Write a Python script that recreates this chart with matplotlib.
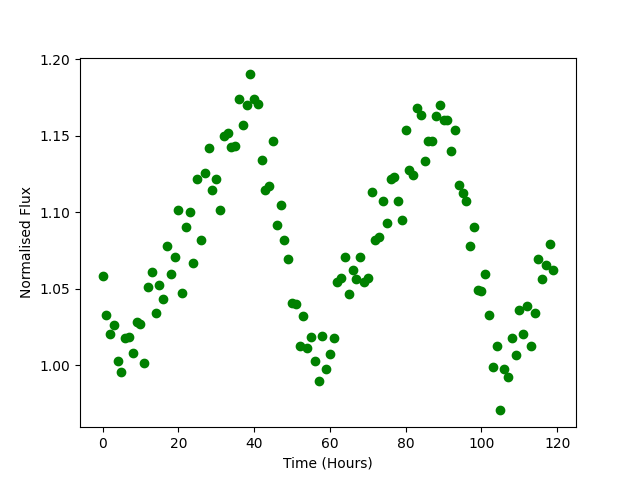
import numpy as np
import matplotlib
matplotlib.use("Agg")
import matplotlib.pyplot as plt

# temps d'observation (heures)
time = [0, 1, 2, 3, 4, 5, 6, 7, 8, 9, 10, 11, 12, 13, 14, 15, 16, 17, 18, 19,
        20, 21, 22, 23, 24, 25, 26, 27, 28, 29, 30, 31, 32, 33, 34, 35, 36, 37, 38, 39,
        40, 41, 42, 43, 44, 45, 46, 47, 48, 49, 50, 51, 52, 53, 54, 55, 56, 57, 58, 59,
        60, 61, 62, 63, 64, 65, 66, 67, 68, 69, 70, 71, 72, 73, 74, 75, 76, 77, 78, 79,
        80, 81, 82, 83, 84, 85, 86, 87, 88, 89, 90, 91, 92, 93, 94, 95, 96, 97, 98, 99,
        100, 101, 102, 103, 104, 105, 106, 107, 108, 109, 110, 111, 112, 113, 114, 115, 116, 117, 118, 119]

# flux normalise
flux = [1.0586, 1.0331, 1.0207, 1.0266, 1.0030, 0.9954, 1.0176, 1.0183, 1.0083, 1.0281,
        1.0268, 1.0017, 1.0508, 1.0608, 1.0344, 1.0527, 1.0436, 1.0776, 1.0593, 1.0710,
        1.1017, 1.0475, 1.0900, 1.1004, 1.0671, 1.1214, 1.0815, 1.1253, 1.1416, 1.1142,
        1.1214, 1.1017, 1.1495, 1.1514, 1.1423, 1.1429, 1.1737, 1.1567, 1.1697, 1.1900,
        1.1737, 1.1706, 1.1338, 1.1148, 1.1168, 1.1462, 1.0913, 1.1044, 1.0821, 1.0697,
        1.0409, 1.0403, 1.0128, 1.0324, 1.0115, 1.0187, 1.0030, 0.9900, 1.0194, 0.9978,
        1.0076, 1.0181, 1.0547, 1.0573, 1.0704, 1.0468, 1.0621, 1.0566, 1.0704, 1.0547,
        1.0573, 1.1129, 1.0821, 1.0841, 1.1076, 1.0932, 1.1214, 1.1227, 1.1070, 1.0952,
        1.1534, 1.1274, 1.1240, 1.1680, 1.1638, 1.1333, 1.1464, 1.1464, 1.1625, 1.1697,
        1.1601, 1.1601, 1.1399, 1.1540, 1.1176, 1.1124, 1.1076, 1.0776, 1.0906, 1.0490,
        1.0483, 1.0593, 1.0331, 0.9987, 1.0126, 0.9705, 0.9973, 0.9926, 1.0176, 1.0065,
        1.0359, 1.0207, 1.0390, 1.0128, 1.0344, 1.0697, 1.0562, 1.0658, 1.0791, 1.0619]

fig = plt.figure(figsize=(6.4, 4.8), dpi=100)
plt.plot(time, flux, 'go')
plt.xlabel("Time (Hours)")
plt.ylabel("Normalised Flux")
plt.savefig("out.png")
